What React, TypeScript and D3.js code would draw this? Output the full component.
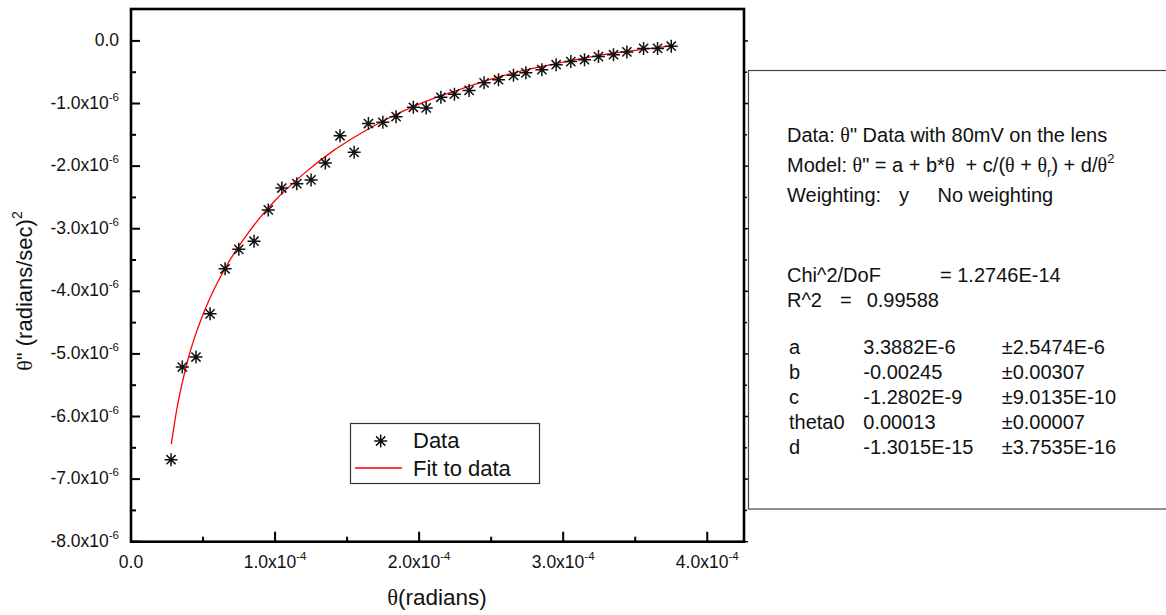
import React from "react";
import * as d3 from "d3";

// Data (theta in radians, theta'' in (radians/sec)^2)
const dataX: number[] = [
  0.278e-4, 0.356e-4, 0.451e-4, 0.549e-4, 0.653e-4, 0.748e-4, 0.854e-4, 0.953e-4,
  1.047e-4, 1.151e-4, 1.25e-4, 1.349e-4, 1.451e-4, 1.549e-4, 1.648e-4, 1.748e-4,
  1.84e-4, 1.96e-4, 2.049e-4, 2.151e-4, 2.245e-4, 2.347e-4, 2.451e-4, 2.551e-4,
  2.655e-4, 2.741e-4, 2.852e-4, 2.951e-4, 3.053e-4, 3.148e-4, 3.245e-4, 3.349e-4,
  3.442e-4, 3.558e-4, 3.655e-4, 3.75e-4,
];
const dataY: number[] = [
  -6.69e-6, -5.21e-6, -5.05e-6, -4.36e-6, -3.64e-6, -3.33e-6, -3.2e-6, -2.7e-6,
  -2.35e-6, -2.28e-6, -2.22e-6, -1.95e-6, -1.515e-6, -1.78e-6, -1.32e-6, -1.3e-6,
  -1.21e-6, -1.06e-6, -1.07e-6, -0.9e-6, -0.85e-6, -0.79e-6, -0.67e-6, -0.62e-6,
  -0.55e-6, -0.51e-6, -0.46e-6, -0.38e-6, -0.33e-6, -0.3e-6, -0.25e-6, -0.22e-6,
  -0.175e-6, -0.12e-6, -0.12e-6, -0.085e-6,
];

// Fit curve
const fitX: number[] = [
  0.28e-4, 0.32e-4, 0.36e-4, 0.4e-4, 0.45e-4, 0.5e-4, 0.6e-4, 0.7e-4, 0.8e-4, 0.9e-4,
  1.0e-4, 1.2e-4, 1.4e-4, 1.6e-4, 1.8e-4, 2.0e-4, 2.25e-4, 2.5e-4, 2.75e-4, 3.0e-4,
  3.25e-4, 3.5e-4, 3.75e-4,
];
const fitY: number[] = [
  -6.44e-6, -5.86e-6, -5.42e-6, -5.05e-6, -4.68e-6, -4.37e-6, -3.86e-6, -3.45e-6, -3.11e-6, -2.81e-6,
  -2.55e-6, -2.12e-6, -1.76e-6, -1.47e-6, -1.22e-6, -1.01e-6, -0.8e-6, -0.61e-6, -0.46e-6, -0.34e-6,
  -0.23e-6, -0.15e-6, -0.08e-6,
];

const xMajor: number[] = [0, 1e-4, 2e-4, 3e-4, 4e-4];
const xMinor: number[] = [0.5e-4, 1.5e-4, 2.5e-4, 3.5e-4];
const yMajor: number[] = [0, -1e-6, -2e-6, -3e-6, -4e-6, -5e-6, -6e-6, -7e-6, -8e-6];
const yMinor: number[] = [-0.5e-6, -1.5e-6, -2.5e-6, -3.5e-6, -4.5e-6, -5.5e-6, -6.5e-6, -7.5e-6];

const legendLabels: string[] = ["Data", "Fit to data"];

const statsRows: [string, string, string][] = [
  ["a", "3.3882E-6", "\u00b12.5474E-6"],
  ["b", "-0.00245", "\u00b10.00307"],
  ["c", "-1.2802E-9", "\u00b19.0135E-10"],
  ["theta0", "0.00013", "\u00b10.00007"],
  ["d", "-1.3015E-15", "\u00b13.7535E-16"],
];

const SANS = "'Liberation Sans', Arial, sans-serif";
const SERIF = "'Liberation Serif', 'Times New Roman', serif";

function fmtMantissa(v: number, exp: number): string {
  return (v / Math.pow(10, exp)).toFixed(1) + "x10";
}

function Star({ cx, cy, r, w }: { cx: number; cy: number; r: number; w: number }) {
  const d = r * Math.SQRT1_2;
  const p = `M${cx - r},${cy}L${cx + r},${cy}M${cx},${cy - r}L${cx},${cy + r}M${cx - d},${cy - d}L${cx + d},${cy + d}M${cx - d},${cy + d}L${cx + d},${cy - d}`;
  return <path d={p} stroke="#111" strokeWidth={w} fill="none" />;
}

export default function App() {
  const left = 131, right = 744, top = 9, bottom = 541.7;
  const x = d3.scaleLinear().domain([0, 4.255e-4]).range([left, right]);
  const y = d3.scaleLinear().domain([-8e-6, 0.51e-6]).range([bottom, top]);

  const fitPts: [number, number][] = fitX.map((v, i) => [v, fitY[i]]);
  const line = d3
    .line<[number, number]>()
    .x((d) => x(d[0]))
    .y((d) => y(d[1]))
    .curve(d3.curveMonotoneX);

  const tx = 787;
  const fs = 20;
  return (
    <svg
      width={1166}
      height={615}
      style={{ position: "absolute", left: 0, top: 0, background: "#fff" }}
      fontFamily={SANS}
    >
      <rect x={0} y={0} width={1166} height={615} fill="#fff" />
      {/* fit line */}
      <path d={line(fitPts) || ""} stroke="#f00" strokeWidth={1.3} fill="none" />
      {/* data */}
      {dataX.map((v, i) => (
        <Star key={i} cx={x(v)} cy={y(dataY[i])} r={6.5} w={1.5} />
      ))}

      {/* frame */}
      <rect x={left} y={top} width={right - left} height={bottom - top} fill="none" stroke="#000" strokeWidth={2.6} />

      {/* y ticks */}
      {yMajor.map((v) => (
        <g key={"ym" + v}>
          <line x1={left} x2={left + 9} y1={y(v)} y2={y(v)} stroke="#000" strokeWidth={2} />
          <line x1={right} x2={right + 4} y1={y(v)} y2={y(v)} stroke="#000" strokeWidth={1.5} />
          <text x={119} y={y(v) + 5} textAnchor="end" fontSize={17.5} fill="#111">
            {v === 0 ? (
              "0.0"
            ) : (
              <>
                <tspan>{fmtMantissa(v, -6)}</tspan>
                <tspan dy={-8} fontSize={11.5}>-6</tspan>
              </>
            )}
          </text>
        </g>
      ))}
      {yMinor.map((v) => (
        <g key={"yn" + v}>
          <line x1={left} x2={left + 5} y1={y(v)} y2={y(v)} stroke="#000" strokeWidth={2} />
          <line x1={right} x2={right + 3} y1={y(v)} y2={y(v)} stroke="#000" strokeWidth={1.5} />
        </g>
      ))}

      {/* x ticks */}
      {xMajor.map((v) => (
        <g key={"xm" + v}>
          <line x1={x(v)} x2={x(v)} y1={bottom} y2={bottom - 10} stroke="#000" strokeWidth={2} />
          <text x={x(v)} y={568} textAnchor="middle" fontSize={17.5} fill="#111">
            {v === 0 ? (
              "0.0"
            ) : (
              <>
                <tspan>{fmtMantissa(v, -4)}</tspan>
                <tspan dy={-8} fontSize={11.5}>-4</tspan>
              </>
            )}
          </text>
        </g>
      ))}
      {xMinor.map((v) => (
        <line key={"xn" + v} x1={x(v)} x2={x(v)} y1={bottom} y2={bottom - 5} stroke="#000" strokeWidth={2} />
      ))}

      {/* axis titles */}
      <text x={437} y={605} textAnchor="middle" fontSize={22.5} fill="#111">
        <tspan fontFamily={SERIF}>θ</tspan>
        <tspan>(radians)</tspan>
      </text>
      <text
        transform={`translate(32,291) rotate(-90)`}
        textAnchor="middle"
        fontSize={22}
        fill="#111"
      >
        <tspan fontFamily={SERIF}>θ</tspan>
        <tspan>" (radians/sec)</tspan>
        <tspan dy={-10} fontSize={14}>2</tspan>
      </text>

      {/* legend */}
      <rect x={350.5} y={423.5} width={189} height={60} fill="#fff" stroke="#333" strokeWidth={1.2} />
      <Star cx={380.7} cy={441} r={6.5} w={1.5} />
      <line x1={355} x2={402} y1={468} y2={468} stroke="#f00" strokeWidth={1.3} />
      <text x={413} y={447.5} fontSize={22} fill="#111">{legendLabels[0]}</text>
      <text x={413} y={476} fontSize={22} fill="#111">{legendLabels[1]}</text>

      {/* stats box */}
      <rect x={748.5} y={70.5} width={440} height={438.5} fill="#fff" stroke="#444" strokeWidth={1.2} />
      <g fontSize={fs} fill="#111" style={{ whiteSpace: "pre" }}>
        <text x={tx} y={141.5} xmlSpace="preserve">
          <tspan>Data: </tspan>
          <tspan fontFamily={SERIF}>θ</tspan>
          <tspan>" Data with 80mV on the lens</tspan>
        </text>
        <text x={tx} y={171.5} xmlSpace="preserve">
          <tspan>Model: </tspan>
          <tspan fontFamily={SERIF}>θ</tspan>
          <tspan>" = a + b*</tspan>
          <tspan fontFamily={SERIF}>θ</tspan>
          <tspan>  + c/(</tspan>
          <tspan fontFamily={SERIF}>θ</tspan>
          <tspan> + </tspan>
          <tspan fontFamily={SERIF}>θ</tspan>
          <tspan dy={5} fontSize={13}>r</tspan>
          <tspan dy={-5}>) + d/</tspan>
          <tspan fontFamily={SERIF}>θ</tspan>
          <tspan dy={-9} fontSize={13}>2</tspan>
        </text>
        <text x={tx} y={201.5}>Weighting:</text>
        <text x={899} y={201.5}>y</text>
        <text x={937.5} y={201.5}>No weighting</text>

        <text x={tx} y={281.5}>Chi^2/DoF</text>
        <text x={940} y={281.5}>= 1.2746E-14</text>
        <text x={tx} y={306.5}>R^2</text>
        <text x={840} y={306.5}>=</text>
        <text x={866.7} y={306.5}>0.99588</text>

        {statsRows.map((r, i) => (
          <g key={r[0]}>
            <text x={tx + 2} y={354.3 + i * 25}>{r[0]}</text>
            <text x={863.3} y={354.3 + i * 25}>{r[1]}</text>
            <text x={1001.7} y={354.3 + i * 25}>{r[2]}</text>
          </g>
        ))}
      </g>
    </svg>
  );
}
